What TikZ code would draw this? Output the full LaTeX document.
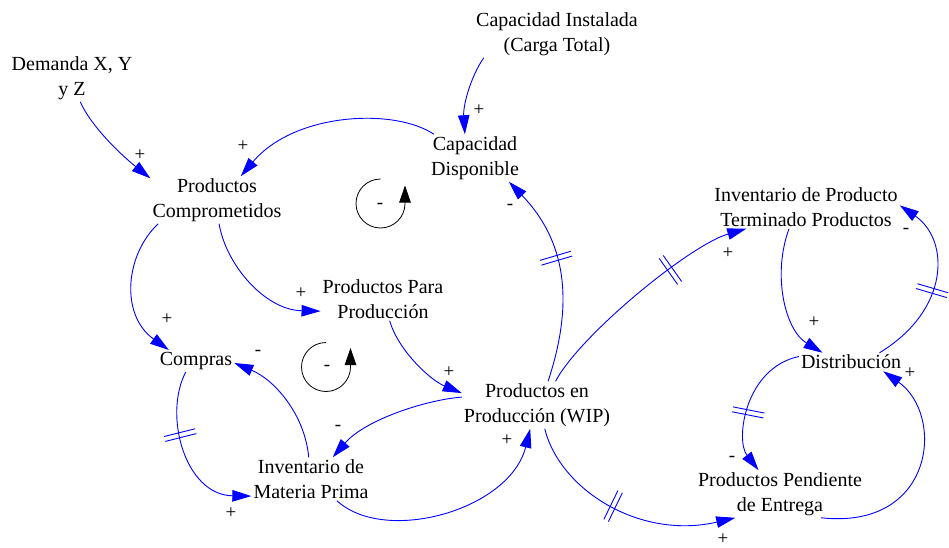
\documentclass[tikz,border=0pt]{standalone}
\usepackage{fontspec}
\setmainfont{Liberation Serif}
\usetikzlibrary{arrows.meta,decorations.markings}
\begin{document}
\begin{tikzpicture}[x=1pt,y=-1pt,
  var/.style={font=\fontsize{20}{25}\selectfont, align=center, inner sep=2pt},
  sign/.style={font=\fontsize{19}{19}\selectfont, inner sep=0pt},
  link/.style={draw=blue, line width=0.9pt, -{Triangle[length=19pt,width=11.5pt]}},
  delaymark/.style={postaction={decorate, decoration={markings,
      mark=at position #1 with {\draw[-, blue, line width=0.9pt]
        (-2.5pt,-16pt) -- (-2.5pt,16pt) (2.5pt,-16pt) -- (2.5pt,16pt);}}}},
  looparc/.style={draw=black, line width=0.8pt, -{Triangle[length=17pt,width=11.5pt]}},
]
\useasboundingbox (0,0) rectangle (949,548);

% variables
\node[var] (dem)     at (72,78)   {Demanda X, Y\\y Z};
\node[var] (cinst)   at (557,34)  {Capacidad Instalada\\(Carga Total)};
\node[var] (cdisp)   at (475,158) {Capacidad\\Disponible};
\node[var] (pc)      at (217,200) {Productos\\Comprometidos};
\node[var] (ppp)     at (383,299) {Productos Para\\Producción};
\node[var] (compras) at (196,361) {Compras};
\node[var] (imp)     at (311,479) {Inventario de\\Materia Prima};
\node[var] (wip)     at (537,405) {Productos en\\Producción (WIP)};
\node[var] (ipt)     at (806,207) {Inventario de Producto\\Terminado Productos};
\node[var] (dist)    at (851,362) {Distribución};
\node[var] (ppe)     at (780,494) {Productos Pendiente\\de Entrega};

% causal links
\draw[link] (dem.-71) .. controls (91,126) and (120,154) .. (pc.162);
\draw[link] (cinst.198) .. controls (471,76) and (463,105) .. (cdisp.113);
\draw[link] (cdisp.150) .. controls (395,108) and (295,112) .. (pc.45);
\draw[link] (pc.-85) .. controls (226,265) and (265,310) .. (ppp.191);
\draw[link] (pc.202) .. controls (125,255) and (120,315) .. (compras.158);
\draw[link, delaymark=0.39] (compras.227) .. controls (163,415) and (185,495) .. (imp.196);
\draw[link] (imp.96) .. controls (305,415) and (275,380) .. (compras.-3);
\draw[link] (ppp.-73) .. controls (398,350) and (430,380) .. (wip.171);
\draw[link] (wip.174) .. controls (425,400) and (365,420) .. (imp.45);
\draw[link] (imp.-40) .. controls (385,545) and (510,510) .. (wip.-106);
\draw[link, delaymark=0.58] (wip.65) .. controls (575,300) and (565,240) .. (cdisp.-35);
\draw[link, delaymark=0.65] (wip.52) .. controls (580,335) and (690,245) .. (ipt.200);
\draw[link, delaymark=0.46] (wip.-72) .. controls (560,490) and (640,540) .. (ppe.208);
\draw[link] (ipt.232) .. controls (772,275) and (785,330) .. (dist.162);
\draw[link, delaymark=0.46] (dist.18) .. controls (950,310) and (950,240) .. (ipt.1);
\draw[link, delaymark=0.57] (dist.174) .. controls (745,368) and (735,440) .. (ppe.132);
\draw[link] (ppe.-30) .. controls (935,530) and (945,415) .. (dist.-16);

% link polarities
\node[sign] (s1)  at (140,155) {+};
\node[sign] (s2)  at (479,110) {+};
\node[sign] (s3)  at (243,146) {+};
\node[sign] (s4)  at (301,293) {+};
\node[sign] (s5)  at (167,319) {+};
\node[sign] (s6)  at (231,513) {+};
\node[sign] (s7)  at (258,353) {-};
\node[sign] (s8)  at (449,372) {+};
\node[sign] (s9)  at (338,428) {-};
\node[sign] (s10) at (507,440) {+};
\node[sign] (s11) at (510,207) {-};
\node[sign] (s12) at (728,253) {+};
\node[sign] (s13) at (723,539) {+};
\node[sign] (s14) at (814,322) {+};
\node[sign] (s15) at (906,231) {-};
\node[sign] (s16) at (732,459) {-};
\node[sign] (s17) at (910,373) {+};

% loop markers
\draw[looparc] (380.5,179) arc[start angle=-90, end angle=-360, radius=24.5] -- ++(0,-18);
\node[sign] (loopa) at (380,206) {-};
\draw[looparc] (326,342.5) arc[start angle=-90, end angle=-360, radius=24.5] -- ++(0,-19);
\node[sign] (loopb) at (327,368) {-};
\end{tikzpicture}
\end{document}
